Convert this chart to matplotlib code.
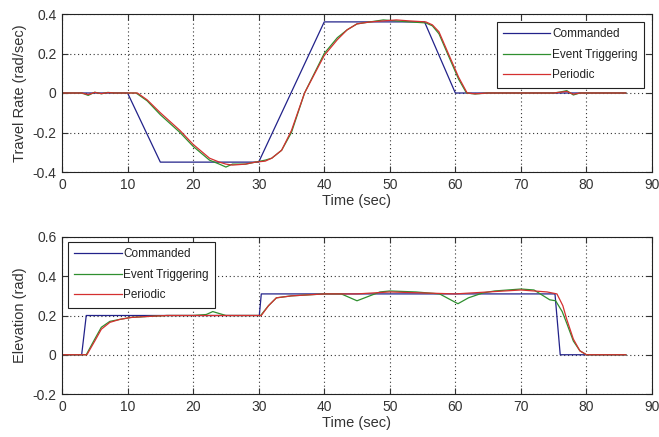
import matplotlib
matplotlib.use("Agg")
import matplotlib.pyplot as plt

plt.rcParams['font.family'] = ['Liberation Sans', 'DejaVu Sans']

# travel rate (top panel)
cmd_t1 = [0, 10, 15, 30, 40, 55.3, 60, 86]
cmd_v1 = [0, 0, -0.35, -0.35, 0.36, 0.36, 0, 0]

ev_t1 = [0, 3, 4, 5, 6, 7, 8, 10, 11.3, 13, 15, 18, 20, 22.5, 24, 25, 26, 28, 29.5, 31,
         32, 33.5, 35, 37, 40, 42, 43.5, 45, 47, 49, 51, 53, 55.5, 56.5, 57.5, 58.8, 60.5,
         61.7, 63, 65, 70, 75, 76, 77, 78, 79, 80, 86]
ev_v1 = [0, 0, -0.012, 0.004, -0.004, 0.003, 0, 0, 0, -0.04, -0.11, -0.2, -0.27, -0.34, -0.36,
         -0.375, -0.36, -0.36, -0.35, -0.34, -0.33, -0.29, -0.2, 0.0, 0.2, 0.28, 0.32, 0.35,
         0.36, 0.37, 0.365, 0.36, 0.355, 0.34, 0.3, 0.2, 0.07, 0.0, -0.005, 0, 0, 0, 0.005,
         0.012, -0.01, 0, 0, 0]

pe_t1 = [0, 3, 4, 5, 6, 7, 8, 10, 11.5, 13, 15, 18, 20, 22.5, 24, 25, 26, 28, 29.5, 31,
         32, 33.5, 35, 37, 40, 42, 43.5, 45, 47, 49, 51, 53, 55.5, 56.5, 57.5, 58.8, 60.5,
         61.8, 63, 65, 70, 75, 76, 77, 78, 79, 80, 86]
pe_v1 = [0, 0, -0.008, 0.003, -0.003, 0.002, 0, 0, 0, -0.035, -0.1, -0.19, -0.26, -0.33, -0.35,
         -0.36, -0.365, -0.36, -0.35, -0.345, -0.33, -0.29, -0.19, 0.0, 0.19, 0.27, 0.32,
         0.35, 0.36, 0.365, 0.37, 0.365, 0.36, 0.345, 0.31, 0.21, 0.08, 0.0, -0.004, 0, 0, 0,
         0.004, 0.008, -0.006, 0, 0, 0]

# elevation (bottom panel)
cmd_t2 = [0, 3, 3.7, 30.1, 30.4, 75.2, 76, 86]
cmd_v2 = [0, 0, 0.2, 0.2, 0.31, 0.31, 0, 0]

ev_t2 = [0, 3.7, 5, 6, 7.3, 8.8, 10.5, 13, 16, 20, 22, 23, 24, 25, 30, 30.3, 31.5, 32.7, 35,
         40, 42.6, 45, 48.5, 50, 54, 57.6, 60.4, 62, 64.2, 66, 70, 72, 74.4, 75.3, 76.3, 77,
         78, 79, 80, 86]
ev_v2 = [0, 0, 0.08, 0.14, 0.17, 0.18, 0.19, 0.195, 0.2, 0.2, 0.205, 0.22, 0.21, 0.2, 0.2, 0.2,
         0.25, 0.29, 0.3, 0.31, 0.31, 0.275, 0.32, 0.325, 0.32, 0.31, 0.26, 0.29, 0.315, 0.325,
         0.335, 0.33, 0.28, 0.275, 0.22, 0.16, 0.07, 0.02, 0.0, 0]

pe_t2 = [0, 3.8, 5, 6, 7.3, 8.8, 10.5, 13, 16, 20, 25, 30, 30.4, 31.5, 32.7, 35, 40, 45, 50,
         55, 60, 65, 70, 74, 75.5, 76.4, 77, 78, 79, 80, 86]
pe_v2 = [0, 0, 0.07, 0.13, 0.165, 0.18, 0.19, 0.195, 0.2, 0.2, 0.2, 0.2, 0.2, 0.25, 0.29, 0.3,
         0.31, 0.31, 0.32, 0.315, 0.31, 0.32, 0.33, 0.32, 0.31, 0.25, 0.18, 0.08, 0.02, 0.0, 0]

names = ['Commanded', 'Event Triggering', 'Periodic']
colors = ['#22228a', '#2f8f2f', '#d43030']

fig = plt.figure(figsize=(6.59, 4.37), dpi=100)
ax1 = fig.add_axes([62/659, 1-172/437, 590/659, 158/437])
ax2 = fig.add_axes([62/659, 1-394/437, 590/659, 157/437])


def style(ax, ylim, yticks, ylabel):
    ax.set_xlim(0, 90)
    ax.set_ylim(*ylim)
    ax.set_xticks(range(0, 91, 10))
    ax.set_yticks(yticks)
    ax.set_yticklabels(['0' if abs(v) < 1e-9 else '%g' % v for v in yticks])
    ax.tick_params(direction='in', top=True, right=True, labelsize=10, length=4, pad=4,
                   colors='#333333')
    ax.grid(True, linestyle=(0, (1, 2.5)), color='#333333', linewidth=0.8)
    for s in ax.spines.values():
        s.set_linewidth(0.8)
        s.set_color('#222222')
    ax.set_xlabel('Time (sec)', fontsize=10.5, labelpad=2, color='#333333')
    ax.set_ylabel(ylabel, fontsize=10.5, labelpad=4, color='#333333')


ax1.plot(cmd_t1, cmd_v1, color=colors[0], lw=0.9, label=names[0])
ax1.plot(ev_t1, ev_v1, color=colors[1], lw=0.9, label=names[1])
ax1.plot(pe_t1, pe_v1, color=colors[2], lw=0.9, label=names[2])
style(ax1, (-0.4, 0.4), [-0.4, -0.2, 0, 0.2, 0.4], 'Travel Rate (rad/sec)')

ax2.plot(cmd_t2, cmd_v2, color=colors[0], lw=0.9, label=names[0])
ax2.plot(ev_t2, ev_v2, color=colors[1], lw=0.9, label=names[1])
ax2.plot(pe_t2, pe_v2, color=colors[2], lw=0.9, label=names[2])
style(ax2, (-0.2, 0.6), [-0.2, 0, 0.2, 0.4, 0.6], 'Elevation (rad)')

leg_kw = dict(fontsize=8.5, handlelength=4.0, handletextpad=0.15, labelspacing=0.7,
              borderpad=0.55, fancybox=False, framealpha=1, edgecolor='#222222')
l1 = ax1.legend(loc='upper right', bbox_to_anchor=(582/590, 1-8/158), borderaxespad=0, **leg_kw)
l2 = ax2.legend(loc='upper left', bbox_to_anchor=(6/590, 1-5/157), borderaxespad=0, **leg_kw)
for l in (l1, l2):
    l.get_frame().set_linewidth(0.8)
    for t in l.get_texts():
        t.set_color('#222222')

fig.savefig('out.png', dpi=100)
